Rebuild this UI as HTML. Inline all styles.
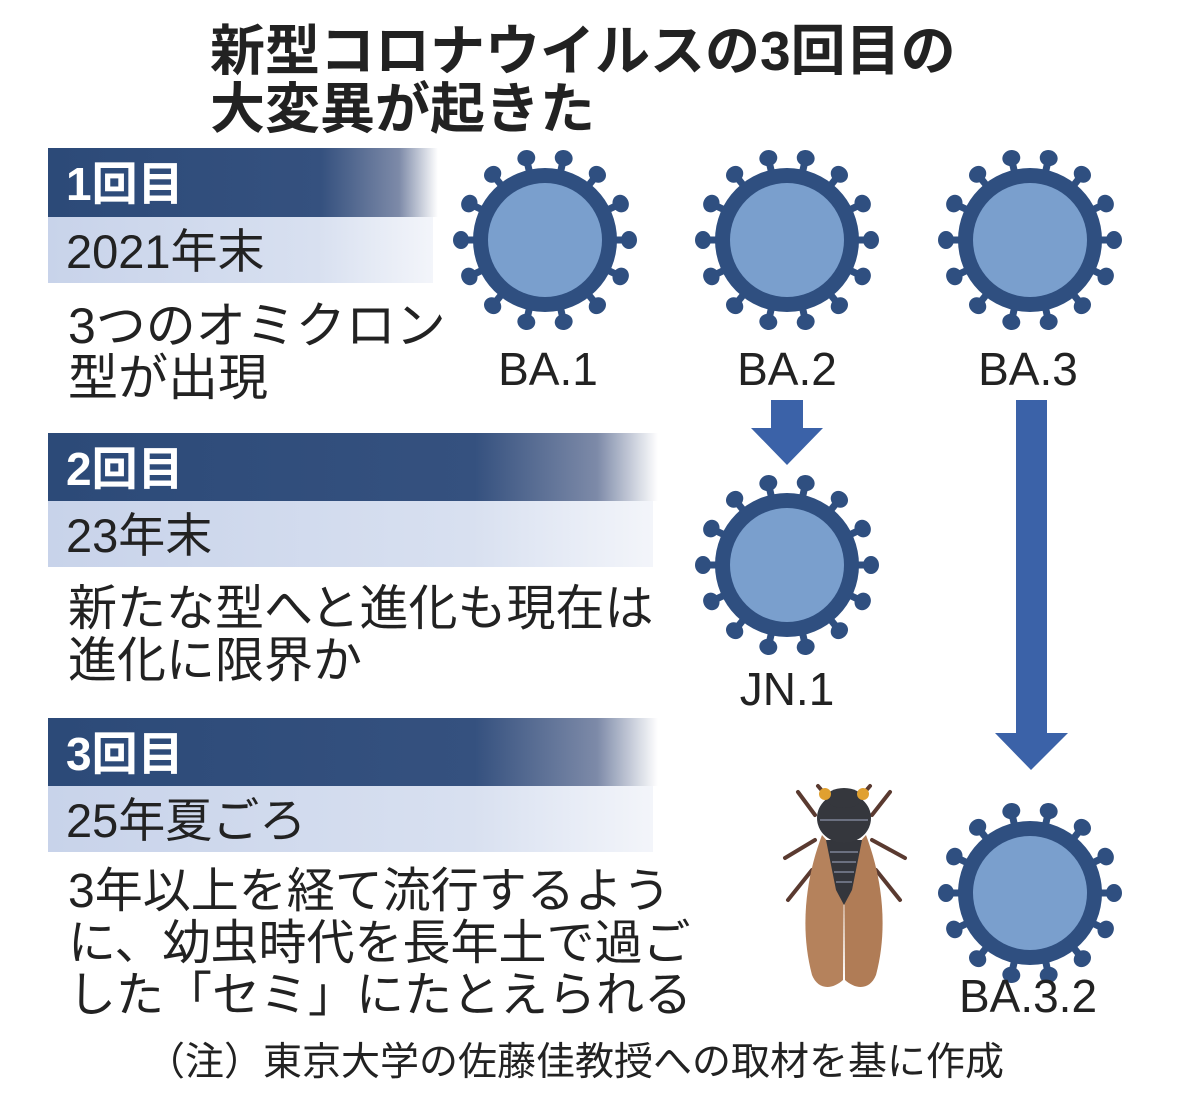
<!DOCTYPE html>
<html><head><meta charset="utf-8"><style>
body{margin:0;background:#fff;}
svg{display:block;}
text{font-family:"Liberation Sans","Noto Sans CJK JP",sans-serif;}
</style></head><body>
<svg width="1179" height="1108" viewBox="0 0 1179 1108" xmlns="http://www.w3.org/2000/svg">
<defs>
<linearGradient id="dk" x1="0" x2="1" y1="0" y2="0">
<stop offset="0" stop-color="#2c4a78"/><stop offset="0.7" stop-color="#35517f"/><stop offset="0.9" stop-color="#7d8aa8"/><stop offset="1" stop-color="#ffffff"/>
</linearGradient>
<linearGradient id="lt" x1="0" x2="1" y1="0" y2="0">
<stop offset="0" stop-color="#c8d3ea"/><stop offset="0.7" stop-color="#d8e0f0"/><stop offset="1" stop-color="#f3f5fa"/>
</linearGradient>
<g id="sp"><rect x="-3.5" y="-84" width="7" height="18" fill="#2f4f80"/><ellipse cx="0" cy="-84" rx="9" ry="8" fill="#2f4f80"/></g>
<g id="v">
<use href="#sp" transform="rotate(12.86)"/><use href="#sp" transform="rotate(38.57)"/><use href="#sp" transform="rotate(64.29)"/><use href="#sp" transform="rotate(90)"/><use href="#sp" transform="rotate(115.71)"/><use href="#sp" transform="rotate(141.43)"/><use href="#sp" transform="rotate(167.14)"/><use href="#sp" transform="rotate(192.86)"/><use href="#sp" transform="rotate(218.57)"/><use href="#sp" transform="rotate(244.29)"/><use href="#sp" transform="rotate(270)"/><use href="#sp" transform="rotate(295.71)"/><use href="#sp" transform="rotate(321.43)"/><use href="#sp" transform="rotate(347.14)"/>
<circle r="72" fill="#2f4f80"/><circle r="57" fill="#7a9fcd"/>
</g>
</defs>

<text x="210" y="70" font-size="55" font-weight="bold" fill="#222">新型コロナウイルスの3回目の</text>
<text x="210" y="128" font-size="55" font-weight="bold" fill="#222">大変異が起きた</text>

<rect x="48" y="148" width="390" height="69" fill="url(#dk)"/>
<text x="66" y="200" font-size="46" font-weight="bold" fill="#fff">1回目</text>
<rect x="48" y="217" width="385" height="66" fill="url(#lt)"/>
<text x="66" y="268" font-size="47" fill="#222">2021年末</text>
<text x="68" y="343" font-size="50" fill="#222">3つのオミクロン</text>
<text x="68" y="395" font-size="50" fill="#222">型が出現</text>

<rect x="48" y="433" width="610" height="68" fill="url(#dk)"/>
<text x="66" y="485" font-size="46" font-weight="bold" fill="#fff">2回目</text>
<rect x="48" y="501" width="605" height="66" fill="url(#lt)"/>
<text x="66" y="552" font-size="47" fill="#222">23年末</text>
<text x="68" y="625" font-size="49" fill="#222">新たな型へと進化も現在は</text>
<text x="68" y="677" font-size="49" fill="#222">進化に限界か</text>

<rect x="48" y="718" width="610" height="68" fill="url(#dk)"/>
<text x="66" y="770" font-size="46" font-weight="bold" fill="#fff">3回目</text>
<rect x="48" y="786" width="605" height="66" fill="url(#lt)"/>
<text x="66" y="837" font-size="47" fill="#222">25年夏ごろ</text>
<text x="68" y="907" font-size="48" fill="#222">3年以上を経て流行するよう</text>
<text x="68" y="959" font-size="48" fill="#222">に、幼虫時代を長年土で過ご</text>
<text x="68" y="1011" font-size="48" fill="#222">した「セミ」にたとえられる</text>

<text x="146" y="1075" font-size="39" fill="#222">（注）東京大学の佐藤佳教授への取材を基に作成</text>

<use href="#v" transform="translate(545,240)"/>
<use href="#v" transform="translate(787,240)"/>
<use href="#v" transform="translate(1030,240)"/>
<use href="#v" transform="translate(787,565)"/>
<use href="#v" transform="translate(1030,893)"/>

<text x="548" y="385" font-size="46" fill="#222" text-anchor="middle">BA.1</text>
<text x="787" y="385" font-size="46" fill="#222" text-anchor="middle">BA.2</text>
<text x="1028" y="385" font-size="46" fill="#222" text-anchor="middle">BA.3</text>
<text x="787" y="705" font-size="46" fill="#222" text-anchor="middle">JN.1</text>
<text x="1028" y="1012" font-size="46" fill="#222" text-anchor="middle">BA.3.2</text>

<polygon points="771,400 803,400 803,428 823,428 787,465 751,428 771,428" fill="#3b62a8"/>
<polygon points="1016,400 1047,400 1047,733 1068,733 1031,770 995,733 1016,733" fill="#3b62a8"/>

<g stroke="#5a3a30" stroke-width="4" stroke-linecap="round" fill="none">
<line x1="830" y1="800" x2="818" y2="786"/><line x1="858" y1="800" x2="870" y2="786"/>
<line x1="815" y1="815" x2="798" y2="792"/><line x1="872" y1="815" x2="890" y2="792"/>
<line x1="815" y1="840" x2="785" y2="858"/><line x1="872" y1="840" x2="905" y2="858"/>
<line x1="812" y1="870" x2="788" y2="900"/><line x1="876" y1="870" x2="900" y2="900"/>
</g>
<path d="M822,835 C805,880 800,930 812,975 C818,990 832,990 843,980 L844,860 Z" fill="#b5825c"/>
<path d="M866,835 C883,880 888,930 876,975 C870,990 856,990 845,980 L844,860 Z" fill="#b07c56"/>
<path d="M826,840 L862,840 L852,890 L844,905 L836,890 Z" fill="#34363c"/>
<g stroke="#6b7080" stroke-width="2"><line x1="830" y1="852" x2="858" y2="852"/><line x1="832" y1="862" x2="856" y2="862"/><line x1="834" y1="872" x2="854" y2="872"/><line x1="836" y1="882" x2="852" y2="882"/></g>
<ellipse cx="844" cy="818" rx="27" ry="25" fill="#35373d"/>
<ellipse cx="844" cy="798" rx="18" ry="10" fill="#35373d"/>
<line x1="820" y1="820" x2="868" y2="820" stroke="#6b7080" stroke-width="2"/>
<circle cx="825" cy="794" r="6" fill="#e0a030"/><circle cx="863" cy="794" r="6" fill="#e0a030"/>
</svg>
</body></html>
